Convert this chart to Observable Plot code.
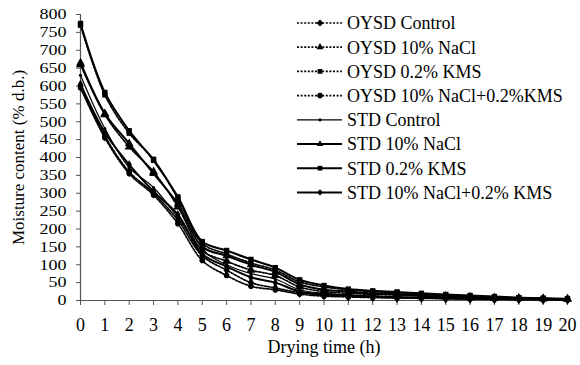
<!DOCTYPE html>
<html>
<head>
<meta charset="utf-8">
<script src="https://cdn.jsdelivr.net/npm/d3@7"></script>
<script src="https://cdn.jsdelivr.net/npm/@observablehq/plot@0.6"></script>
<style>
  html, body { margin: 0; padding: 0; background: #fff; }
  #chart { width: 580px; height: 365px; }
</style>
</head>
<body>
<div id="chart"></div>
<script>
// Drying time (h)
const hours = [0,1,2,3,4,5,6,7,8,9,10,11,12,13,14,15,16,17,18,19,20];
const xTicks = [0,1,2,3,4,5,6,7,8,9,10,11,12,13,14,15,16,17,18,19,20];
const yTicks = [0,50,100,150,200,250,300,350,400,450,500,550,600,650,700,750,800];

const seriesNames = [
  "OYSD Control",
  "OYSD 10% NaCl",
  "OYSD 0.2% KMS",
  "OYSD 10% NaCl+0.2%KMS",
  "STD Control",
  "STD 10% NaCl",
  "STD 0.2% KMS",
  "STD 10% NaCl+0.2% KMS"
];

// Moisture content (% d.b.)
const oysdControl   = [600,460,360,300,225,125,85,50,35,22,15,12,10,8,7,6,5,4,4,3,3];
const oysdNaCl      = [660,520,430,360,262,140,110,85,70,38,25,20,17,15,12,10,8,7,6,5,4];
const oysdKMS       = [770,575,468,395,285,160,130,105,85,52,38,30,25,22,18,15,12,10,8,6,5];
const oysdNaClKMS   = [595,455,355,295,215,112,70,40,30,18,12,10,8,7,6,5,4,3,3,2,2];
const stdControl    = [630,481,372,316,232,140,100,75,60,30,20,15,12,10,8,7,6,5,4,3,3];
const stdNaCl       = [665,523,439,355,270,150,125,100,80,45,30,25,20,18,15,12,10,8,6,5,4];
const stdKMS        = [775,582,475,392,290,165,140,115,92,58,42,32,27,24,20,17,14,11,8,6,4];
const stdNaClKMS    = [605,470,380,305,240,130,95,65,50,25,18,14,11,9,8,6,5,4,3,3,2];

const seriesValues = [oysdControl, oysdNaCl, oysdKMS, oysdNaClKMS, stdControl, stdNaCl, stdKMS, stdNaClKMS];
const symbols = ["diamond","triangle","square","circle","circle","triangle","square","diamond"];
const dashed = [true,true,true,true,false,false,false,false];
const widths = [1.7,1.7,1.7,1.7,1.2,2,2,2];
const radii  = [3.2,3.4,3,2.8,1.6,3.2,3,2.8];

const rows = [];
seriesNames.forEach((name, i) => {
  hours.forEach((h, j) => rows.push({series: name, idx: i, t: h, v: seriesValues[i][j]}));
});

const lineMarks = seriesNames.map((name, i) =>
  Plot.line(rows.filter(d => d.idx === i), {
    x: "t", y: "v", stroke: "#000", strokeWidth: widths[i],
    strokeDasharray: dashed[i] ? "2,1.6" : null, curve: "catmull-rom"
  })
);
const dotMarks = seriesNames.map((name, i) =>
  Plot.dot(rows.filter(d => d.idx === i), {
    x: "t", y: "v", symbol: () => symbols[i], r: radii[i], fill: "#000", stroke: "none"
  })
);

const chart = Plot.plot({
  width: 580, height: 365,
  marginLeft: 80, marginRight: 13, marginTop: 14, marginBottom: 65,
  style: {fontFamily: "'Liberation Serif', serif", fontSize: "18px", color: "#000", background: "#fff"},
  x: {domain: [0, 20]},
  y: {domain: [0, 800]},
  symbol: {type: "identity"},
  marks: [
    Plot.axisX({ticks: xTicks, tickSize: 5, tickPadding: 13, stroke: "#555", fill: "#000",
      label: "Drying time (h)", labelAnchor: "center", labelOffset: 52, labelArrow: "none", tickFormat: d => String(d)}),
    Plot.axisY({ticks: yTicks, tickSize: 4, tickPadding: 10, stroke: "#555", fill: "#000", fontSize: 15,
      label: null, tickFormat: d => String(d)}),
    Plot.text(["Moisture content (% d.b.)"], {frameAnchor: "left", dx: -62, rotate: -90, textAnchor: "middle", fontSize: 17, fill: "#000"}),
    Plot.ruleY([0], {stroke: "#555", strokeWidth: 1.2}),
    Plot.ruleX([0], {stroke: "#555", strokeWidth: 1.2}),
    ...lineMarks,
    ...dotMarks
  ]
});

// Legend drawn into the same SVG
const svg = d3.select(chart);
const lg = svg.append("g").attr("font-family", "'Liberation Serif', serif").attr("font-size", 18).attr("text-anchor", "start");
const symMap = {diamond: d3.symbolDiamond2, triangle: d3.symbolTriangle2, square: d3.symbolSquare2, circle: d3.symbolCircle};
seriesNames.forEach((name, i) => {
  const y = 23 + i * 24.2;
  const g = lg.append("g").attr("transform", `translate(0,${y})`);
  g.append("line").attr("x1", 297).attr("x2", 342).attr("y1", 0).attr("y2", 0)
    .attr("stroke", "#000").attr("stroke-width", widths[i])
    .attr("stroke-dasharray", dashed[i] ? "2,1.6" : null);
  g.append("path").attr("transform", "translate(320,0)")
    .attr("d", d3.symbol(symMap[symbols[i]], Math.PI * radii[i] * radii[i])())
    .attr("fill", "#000");
  g.append("text").attr("x", 347).attr("y", 0).attr("dy", "0.35em").attr("fill", "#000")
    .attr("text-anchor", "start").text(name);
});

document.getElementById("chart").appendChild(chart);

// widen the y tick digits slightly, as in the reference
svg.selectAll("g[aria-label='y-axis tick label'] text").each(function() {
  const w = this.getComputedTextLength();
  this.setAttribute("textLength", (w * 1.2).toFixed(1));
  this.setAttribute("lengthAdjust", "spacingAndGlyphs");
});
</script>
</body>
</html>
